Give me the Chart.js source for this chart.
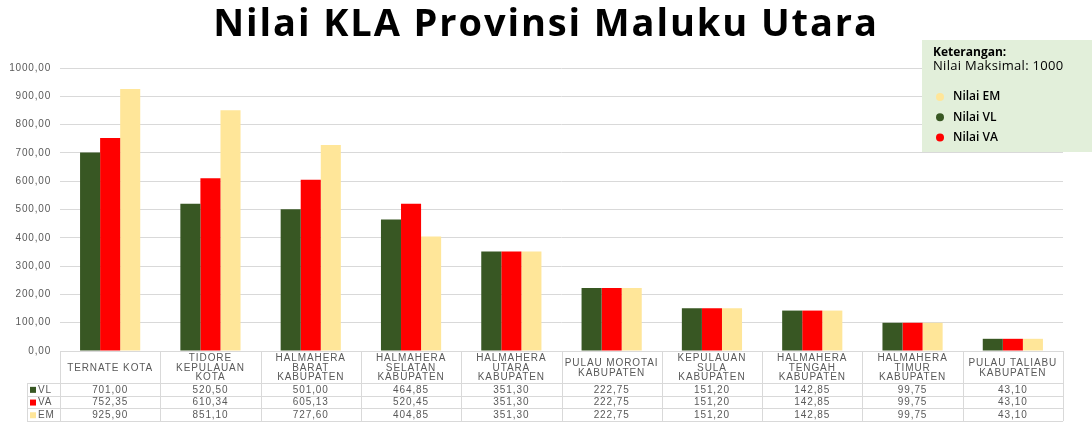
<!DOCTYPE html>
<html>
<head>
<meta charset="utf-8">
<title>Nilai KLA Provinsi Maluku Utara</title>
<script src="https://cdn.jsdelivr.net/npm/chart.js@4/dist/chart.umd.min.js"></script>
<style>
  html, body { margin: 0; padding: 0; background: #fff; }
  #wrap { position: relative; width: 1092px; height: 423px; }
</style>
</head>
<body>
<div id="wrap"><canvas id="klaChart" width="1092" height="423"></canvas></div>
<script>
// data
const chartTitle = "Nilai KLA Provinsi Maluku Utara";
const categories = [
  ["TERNATE KOTA"],
  ["TIDORE", "KEPULAUAN", "KOTA"],
  ["HALMAHERA", "BARAT", "KABUPATEN"],
  ["HALMAHERA", "SELATAN", "KABUPATEN"],
  ["HALMAHERA", "UTARA", "KABUPATEN"],
  ["PULAU MOROTAI", "KABUPATEN"],
  ["KEPULAUAN", "SULA", "KABUPATEN"],
  ["HALMAHERA", "TENGAH", "KABUPATEN"],
  ["HALMAHERA", "TIMUR", "KABUPATEN"],
  ["PULAU TALIABU", "KABUPATEN"],
];
const nilaiVL = [701.0, 520.5, 501.0, 464.85, 351.3, 222.75, 151.2, 142.85, 99.75, 43.1];
const nilaiVA = [752.35, 610.34, 605.13, 520.45, 351.3, 222.75, 151.2, 142.85, 99.75, 43.1];
const nilaiEM = [925.9, 851.1, 727.6, 404.85, 351.3, 222.75, 151.2, 142.85, 99.75, 43.1];
const yTicks = [0, 100, 200, 300, 400, 500, 600, 700, 800, 900, 1000];

const legendTitle = "Keterangan:";
const legendNote = "Nilai Maksimal: 1000";
const legendOrder = ["EM", "VL", "VA"];

const COLORS = { VL: "#385723", VA: "#ff0000", EM: "#ffe699" };
const TEXT = "#595959";
const BORDER = "#d9d9d9";
const FONT = "'Liberation Sans', Arial, sans-serif";
const LEGEND_FONT = "'Open Sans', sans-serif";

const fmt = (v) => v.toFixed(2).replace(".", ",");

/**
 * Teks di gambar asli agak renggang, jadi pakai letterSpacing.
 */
const spacingPlugin = {
  id: "spacing",
  beforeDraw(chart) {
    chart.ctx.letterSpacing = "0.8px";
  },
};

/**
 * Judul besar di atas (digambar sendiri supaya bisa diberi spasi huruf).
 */
const titlePlugin = {
  id: "bigTitle",
  afterDraw(chart) {
    const { ctx } = chart;
    ctx.save();
    ctx.letterSpacing = "1.9px";
    ctx.fillStyle = "#000";
    ctx.font = "bold 38px 'Open Sans', sans-serif";
    ctx.textAlign = "center";
    ctx.textBaseline = "alphabetic";
    ctx.fillText(chartTitle, 546, 36);
    ctx.restore();
  },
};

/**
 * Tabel data di bawah grafik (header kategori + baris VL/VA/EM).
 */
const dataTablePlugin = {
  id: "dataTable",
  afterDraw(chart) {
    const { ctx, chartArea } = chart;
    const x = chart.scales.x;
    const left = chartArea.left;
    const right = chartArea.right;
    const top = chartArea.bottom;
    const colW = (right - left) / categories.length;
    const headerBottom = top + 32;
    const rowH = 12.7;
    const rowsBottom = headerBottom + rowH * 3;
    const labelLeft = 27;

    ctx.save();
    ctx.letterSpacing = "0.9px";
    ctx.strokeStyle = BORDER;
    ctx.lineWidth = 1;

    // garis horizontal
    ctx.beginPath();
    ctx.moveTo(left, top + 0.5);
    ctx.lineTo(right, top + 0.5);
    for (let r = 0; r <= 3; r++) {
      const yy = Math.round(headerBottom + rowH * r) + 0.5;
      ctx.moveTo(labelLeft, yy);
      ctx.lineTo(right, yy);
    }
    // garis vertikal
    for (let i = 0; i <= categories.length; i++) {
      const xx = Math.round(left + colW * i) + 0.5;
      ctx.moveTo(xx, top);
      ctx.lineTo(xx, rowsBottom);
    }
    ctx.moveTo(labelLeft + 0.5, headerBottom);
    ctx.lineTo(labelLeft + 0.5, rowsBottom);
    ctx.stroke();

    // header kategori
    ctx.fillStyle = TEXT;
    ctx.font = "10px " + FONT;
    ctx.textAlign = "center";
    ctx.textBaseline = "middle";
    const lineH = 9.7;
    categories.forEach((lines, i) => {
      const cx = x.getPixelForValue(i);
      const midY = (top + headerBottom) / 2 + 1;
      const startY = midY - ((lines.length - 1) * lineH) / 2;
      lines.forEach((ln, j) => ctx.fillText(ln, cx, startY + j * lineH));
    });

    // baris nilai
    chart.data.datasets.forEach((ds, r) => {
      const cy = headerBottom + rowH * r + rowH / 2 + 0.5;
      ctx.fillStyle = ds.backgroundColor;
      ctx.fillRect(labelLeft + 3, cy - 3, 6, 6);
      ctx.fillStyle = TEXT;
      ctx.textAlign = "left";
      ctx.fillText(ds.label, labelLeft + 11, cy);
      ctx.textAlign = "center";
      ds.data.forEach((v, i) => ctx.fillText(fmt(v), x.getPixelForValue(i), cy));
    });

    ctx.restore();
  },
};

/**
 * Kotak keterangan di kanan atas.
 */
const keteranganPlugin = {
  id: "keterangan",
  afterDraw(chart) {
    const { ctx } = chart;
    const bx = 922, by = 40, bw = 170, bh = 112;
    ctx.save();
    ctx.letterSpacing = "0px";
    ctx.fillStyle = "#e2efda";
    ctx.fillRect(bx, by, bw, bh);

    ctx.fillStyle = "#000";
    ctx.textAlign = "left";
    ctx.textBaseline = "middle";
    ctx.font = "bold 12px " + LEGEND_FONT;
    ctx.fillText(legendTitle, bx + 11, by + 13);
    ctx.letterSpacing = "0.3px";
    ctx.font = "13px " + LEGEND_FONT;
    ctx.fillText(legendNote, bx + 11, by + 26);
    ctx.letterSpacing = "0px";

    legendOrder.forEach((key, i) => {
      const ds = chart.data.datasets.find((d) => d.label === key);
      const cy = by + 57 + i * 20.3;
      ctx.fillStyle = ds.backgroundColor;
      ctx.beginPath();
      ctx.arc(bx + 18, cy, 4, 0, Math.PI * 2);
      ctx.fill();
      ctx.fillStyle = "#000";
      ctx.font = "600 12px " + LEGEND_FONT;
      ctx.fillText("Nilai " + key, bx + 31, cy);
    });
    ctx.restore();
  },
};

const ctx = document.getElementById("klaChart").getContext("2d");

new Chart(ctx, {
  type: "bar",
  data: {
    labels: categories.map((c) => c.join(" ")),
    datasets: [
      { label: "VL", data: nilaiVL, backgroundColor: COLORS.VL },
      { label: "VA", data: nilaiVA, backgroundColor: COLORS.VA },
      { label: "EM", data: nilaiEM, backgroundColor: COLORS.EM },
    ],
  },
  options: {
    responsive: false,
    animation: false,
    devicePixelRatio: 1,
    datasets: {
      bar: { categoryPercentage: 0.6, barPercentage: 1.0 },
    },
    layout: { padding: { left: 0, right: 29, top: 68, bottom: 72 } },
    plugins: {
      legend: { display: false },
      tooltip: { enabled: false },
      title: { display: false },
    },
    scales: {
      x: { display: false },
      y: {
        min: 0,
        max: 1000,
        afterFit: (s) => { s.width = 60; },
        afterBuildTicks: (s) => { s.ticks = yTicks.map((v) => ({ value: v })); },
        border: { display: false },
        grid: { color: BORDER, drawTicks: false },
        ticks: {
          padding: 9,
          color: TEXT,
          font: { family: FONT, size: 10 },
          callback: (v) => fmt(v),
        },
      },
    },
  },
  plugins: [spacingPlugin, titlePlugin, dataTablePlugin, keteranganPlugin],
});
</script>
</body>
</html>
